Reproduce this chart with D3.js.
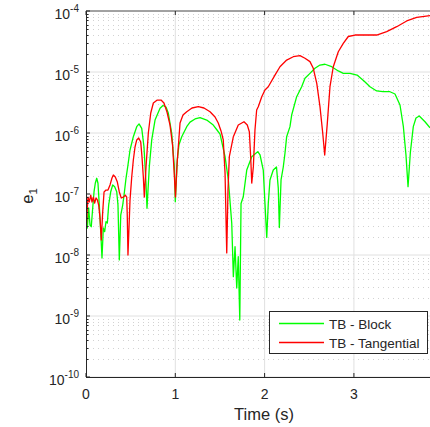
<!DOCTYPE html>
<html>
<head>
<meta charset="utf-8">
<script src="https://cdn.jsdelivr.net/npm/d3@7"></script>
<style>
  body { margin: 0; background: #fff; }
  svg { display: block; font-family: "Liberation Sans", Arial, sans-serif; }
</style>
</head>
<body>
<script>
// e1 error versus time, two traction-based schemes
const width = 430;
const height = 427;

const timeBlock = [0, 0.015, 0.030, 0.045, 0.059, 0.075, 0.090, 0.104, 0.120, 0.134, 0.149, 0.165, 0.179, 0.194, 0.209,
  0.224, 0.239, 0.254, 0.277, 0.299, 0.321, 0.344, 0.358, 0.373, 0.389, 0.411, 0.426, 0.448, 0.470, 0.493,
  0.530, 0.568, 0.594, 0.624, 0.649, 0.672, 0.683, 0.709, 0.736, 0.773, 0.829, 0.862, 0.896, 0.922, 0.960,
  0.989, 1.000, 1.022, 1.041, 1.072, 1.128, 1.165, 1.221, 1.277, 1.352, 1.425, 1.467, 1.501, 1.557, 1.594,
  1.632, 1.650, 1.669, 1.688, 1.705, 1.722, 1.736, 1.761, 1.800, 1.856, 1.892, 1.923, 1.949, 1.985, 2.004,
  2.024, 2.041, 2.060, 2.097, 2.133, 2.153, 2.165, 2.184, 2.209, 2.228, 2.247, 2.284, 2.303, 2.359, 2.415,
  2.452, 2.508, 2.564, 2.620, 2.676, 2.751, 2.825, 2.881, 2.956, 3.035, 3.113, 3.180, 3.255, 3.326, 3.404,
  3.460, 3.516, 3.553, 3.583, 3.606, 3.632, 3.665, 3.695, 3.732, 3.796, 3.852];
const errBlock = [6.6e-8, 2.77e-8, 5.9e-8, 3.1e-8, 2.91e-8, 5.9e-8, 1.09e-7, 1.5e-7, 1.81e-7, 1.5e-7, 6.6e-8, 2.41e-8, 8.9e-9, 2.77e-8, 2.41e-8,
  3.52e-8, 3.35e-8, 6.6e-8, 1.09e-7, 1.41e-7, 1.32e-7, 1.09e-7, 6.6e-8, 8.3e-9, 4.5e-8, 6.6e-8, 9.6e-8, 1.81e-7, 2.99e-7, 5.27e-7,
  8.7e-7, 1.27e-6, 1.41e-6, 1.19e-6, 5.96e-7, 1.5e-7, 5.83e-8, 2.81e-7, 7.7e-7, 1.63e-6, 2.54e-6, 2.82e-6, 2.67e-6, 2.1e-6, 9.9e-7,
  2.81e-7, 7.5e-8, 3.61e-7, 6.4e-7, 8.7e-7, 1.27e-6, 1.51e-6, 1.7e-6, 1.78e-6, 1.63e-6, 1.35e-6, 1.12e-6, 9.6e-7, 4.09e-7, 1.7e-7,
  3.31e-8, 4.41e-9, 1.37e-8, 2.88e-9, 9.4e-9, 8.6e-10, 7.0e-8, 9.0e-8, 2.47e-7, 4.09e-7, 4.53e-7, 4.93e-7, 4.36e-7, 2.47e-7, 7.0e-8,
  1.94e-8, 7.0e-8, 1.7e-7, 2.47e-7, 2.77e-7, 1.25e-7, 2.82e-8, 1.7e-7, 2.77e-7, 4.65e-7, 8.7e-7, 1.27e-6, 1.97e-6, 3.94e-6, 5.74e-6,
  7.9e-6, 9.5e-6, 1.15e-5, 1.3e-5, 1.34e-5, 1.22e-5, 1.04e-5, 9.5e-6, 9.5e-6, 8.9e-6, 7.1e-6, 5.74e-6, 4.89e-6, 4.75e-6, 4.75e-6,
  4.36e-6, 2.88e-6, 1.3e-6, 4.36e-7, 1.32e-7, 4.79e-7, 1.27e-6, 1.76e-6, 1.9e-6, 1.53e-6, 1.22e-6];

const timeTang = [0, 0.022, 0.037, 0.053, 0.067, 0.082, 0.097, 0.112, 0.127, 0.142, 0.157, 0.171, 0.187, 0.202, 0.224,
  0.246, 0.269, 0.291, 0.306, 0.328, 0.351, 0.373, 0.395, 0.418, 0.440, 0.456, 0.462, 0.470, 0.493, 0.512,
  0.530, 0.549, 0.568, 0.590, 0.613, 0.627, 0.642, 0.653, 0.672, 0.698, 0.725, 0.754, 0.798, 0.840, 0.873,
  0.907, 0.941, 0.969, 0.989, 1.002, 1.019, 1.053, 1.086, 1.128, 1.187, 1.258, 1.321, 1.389, 1.445, 1.481,
  1.512, 1.537, 1.557, 1.576, 1.590, 1.605, 1.650, 1.705, 1.769, 1.806, 1.829, 1.844, 1.856, 1.874, 1.892,
  1.911, 1.929, 1.968, 2.004, 2.041, 2.116, 2.172, 2.247, 2.321, 2.396, 2.452, 2.508, 2.545, 2.584, 2.620,
  2.651, 2.673, 2.702, 2.732, 2.769, 2.825, 2.881, 2.937, 3.012, 3.143, 3.255, 3.367, 3.479, 3.591, 3.703, 3.852];
const errTang = [2.3e-8, 8.9e-8, 7.4e-8, 9.6e-8, 7.4e-8, 8.9e-8, 7.1e-8, 8.6e-8, 8.0e-8, 6.6e-8, 4.05e-8, 1.76e-8, 5.07e-8, 1.08e-7, 1.16e-7,
  1.16e-7, 1.41e-7, 1.83e-7, 2.05e-7, 1.9e-7, 1.57e-7, 1.08e-7, 8.6e-8, 8.9e-8, 9.6e-8, 8.9e-8, 4.5e-8, 1.0e-8, 8.0e-8, 1.9e-7,
  3.61e-7, 5.9e-7, 7.7e-7, 8.3e-7, 7.1e-7, 4.05e-7, 1.9e-7, 8.9e-8, 2.77e-7, 1.0e-6, 2.13e-6, 3.1e-6, 3.47e-6, 3.47e-6, 3.1e-6,
  2.21e-6, 1.35e-6, 6.4e-7, 2.05e-7, 8.9e-8, 2.99e-7, 1.46e-6, 1.97e-6, 2.23e-6, 2.57e-6, 2.7e-6, 2.57e-6, 2.23e-6, 1.83e-6, 1.46e-6,
  1.08e-6, 7.7e-7, 2.21e-7, 1.08e-8, 1.16e-7, 4.09e-7, 8.7e-7, 1.35e-6, 1.53e-6, 1.35e-6, 1.05e-6, 4.09e-7, 1.51e-7, 2.81e-7, 1.12e-6,
  2.38e-6, 2.7e-6, 3.94e-6, 5.07e-6, 5.74e-6, 8.9e-6, 1.22e-5, 1.57e-5, 1.78e-5, 1.85e-5, 1.68e-5, 1.48e-5, 1.15e-5, 6.5e-6, 2.7e-6,
  9.9e-7, 4.36e-7, 1.44e-6, 5.74e-6, 1.22e-5, 2.15e-5, 2.95e-5, 3.82e-5, 4.04e-5, 4.04e-5, 4.04e-5, 4.58e-5, 5.53e-5, 6.86e-5, 7.89e-5, 8.38e-5];

const xTicks = [0, 1, 2, 3];
const yExponents = [-10, -9, -8, -7, -6, -5, -4];
const seriesNames = ['TB - Block', 'TB - Tangential'];
const seriesColors = ['#00ff00', '#ff0000'];

const plotLeft = 86, plotRight = 430, plotTop = 11, plotBottom = 377;
const axisColor = '#262626';

const x = d3.scaleLinear().domain([0, 3.852]).range([plotLeft, plotRight]);
const y = d3.scaleLog().domain([1e-10, 1e-4]).range([plotBottom, plotTop]);

const svg = d3.select('body').append('svg')
  .attr('width', width)
  .attr('height', height);

svg.append('defs').append('clipPath').attr('id', 'plot')
  .append('rect')
  .attr('x', plotLeft).attr('y', plotTop)
  .attr('width', plotRight - plotLeft).attr('height', plotBottom - plotTop);

// minor grid (dotted) on the log axis
const minorVals = [];
yExponents.slice(0, -1).forEach(e => {
  for (let m = 2; m <= 9; m++) minorVals.push(m * Math.pow(10, e));
});

svg.append('g').selectAll('line')
  .data(minorVals)
  .enter().append('line')
  .attr('x1', plotLeft + 2).attr('x2', plotRight)
  .attr('y1', d => Math.round(y(d)) + 0.5)
  .attr('y2', d => Math.round(y(d)) + 0.5)
  .attr('stroke', '#d2d2d2')
  .attr('stroke-dasharray', '1,4');

// major grid
svg.append('g').selectAll('line')
  .data(yExponents.map(e => Math.pow(10, e)))
  .enter().append('line')
  .attr('x1', plotLeft).attr('x2', plotRight)
  .attr('y1', d => y(d)).attr('y2', d => y(d))
  .attr('stroke', '#e0e0e0');

svg.append('g').selectAll('line')
  .data(xTicks.slice(1))
  .enter().append('line')
  .attr('x1', d => x(d)).attr('x2', d => x(d))
  .attr('y1', plotTop).attr('y2', plotBottom)
  .attr('stroke', '#e0e0e0');

// data lines
const line = d3.line()
  .x(d => x(d[0]))
  .y(d => y(d[1]));

const series = [
  d3.zip(timeBlock, errBlock),
  d3.zip(timeTang, errTang)
];

svg.append('g')
  .attr('clip-path', 'url(#plot)')
  .selectAll('path')
  .data(series)
  .enter().append('path')
  .attr('fill', 'none')
  .attr('stroke', (d, i) => seriesColors[i])
  .attr('stroke-width', 1.3)
  .attr('stroke-linejoin', 'round')
  .attr('d', line);

// axis lines and ticks (drawn inward, MATLAB style)
const ax = svg.append('g').attr('stroke', axisColor).attr('fill', 'none');
ax.append('line').attr('x1', plotLeft + 0.5).attr('x2', plotLeft + 0.5).attr('y1', plotTop).attr('y2', plotBottom + 0.5);
ax.append('line').attr('x1', plotLeft).attr('x2', plotRight).attr('y1', plotBottom + 0.5).attr('y2', plotBottom + 0.5);
ax.append('line').attr('x1', plotLeft).attr('x2', plotRight).attr('y1', plotTop).attr('y2', plotTop).attr('stroke', '#555');

xTicks.forEach(t => {
  ax.append('line').attr('x1', x(t)).attr('x2', x(t)).attr('y1', plotBottom).attr('y2', plotBottom - 4);
  ax.append('line').attr('x1', x(t)).attr('x2', x(t)).attr('y1', plotTop).attr('y2', plotTop + 4);
});
yExponents.forEach(e => {
  const py = y(Math.pow(10, e));
  ax.append('line').attr('x1', plotLeft).attr('x2', plotLeft + 4).attr('y1', py).attr('y2', py);
});
minorVals.forEach(v => {
  const py = Math.round(y(v)) + 0.5;
  ax.append('line').attr('x1', plotLeft).attr('x2', plotLeft + 2.5).attr('y1', py).attr('y2', py);
});

// tick labels
svg.append('g').selectAll('text')
  .data(xTicks)
  .enter().append('text')
  .attr('x', d => x(d))
  .attr('y', 399)
  .attr('text-anchor', 'middle')
  .attr('font-size', 14)
  .attr('fill', axisColor)
  .text(d => d);

const yLab = svg.append('g').selectAll('text')
  .data(yExponents)
  .enter().append('text')
  .attr('x', 79)
  .attr('y', d => y(Math.pow(10, d)) + 8)
  .attr('text-anchor', 'end')
  .attr('font-size', 14)
  .attr('fill', axisColor);
yLab.append('tspan').text('10');
yLab.append('tspan')
  .attr('dy', -7.5)
  .attr('font-size', 10)
  .text(d => '-' + Math.abs(d));

// axis titles
svg.append('text')
  .attr('x', 264)
  .attr('y', 420)
  .attr('text-anchor', 'middle')
  .attr('font-size', 16.5)
  .attr('fill', axisColor)
  .text('Time (s)');

const yt = svg.append('text')
  .attr('transform', `translate(33, ${(plotTop + plotBottom) / 2 + 2}) rotate(-90)`)
  .attr('text-anchor', 'middle')
  .attr('font-size', 16.5)
  .attr('fill', axisColor);
yt.append('tspan').text('e');
yt.append('tspan').attr('dy', 4).attr('font-size', 11.5).text('1');

// legend
const lg = svg.append('g').attr('transform', 'translate(269, 311)');
lg.append('rect')
  .attr('x', 0.5).attr('y', 0.5)
  .attr('width', 158).attr('height', 42)
  .attr('fill', '#fff')
  .attr('stroke', axisColor);

seriesNames.forEach((name, i) => {
  const ly = 12.5 + i * 19;
  lg.append('line')
    .attr('x1', 10).attr('x2', 55)
    .attr('y1', ly).attr('y2', ly)
    .attr('stroke', seriesColors[i])
    .attr('stroke-width', 1.3);
  lg.append('text')
    .attr('x', 60)
    .attr('y', ly + 5)
    .attr('font-size', 13.5)
    .attr('fill', axisColor)
    .text(name);
});
</script>
</body>
</html>
